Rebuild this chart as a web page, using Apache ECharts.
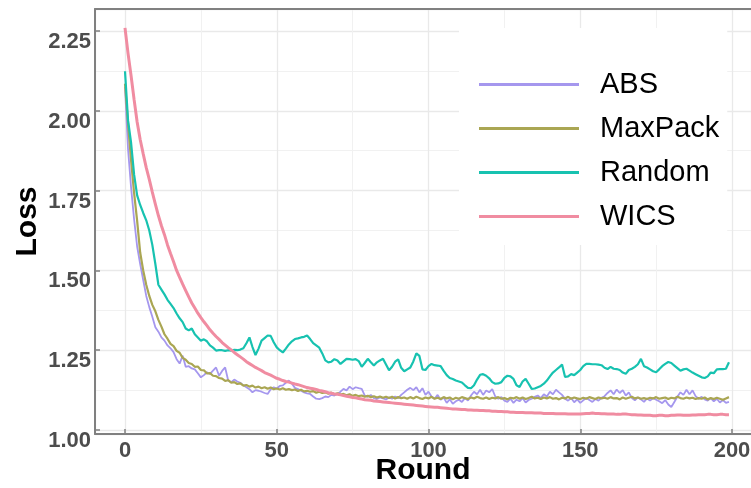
<!DOCTYPE html>
<html><head><meta charset="utf-8">
<script src="https://cdn.jsdelivr.net/npm/echarts@6/dist/echarts.min.js"></script>
<style>html,body{margin:0;padding:0;background:#fff}#c{width:751px;height:488px}</style>
</head><body><div id="c"></div>
<script>
const seriesNames = ['ABS', 'MaxPack', 'Random', 'WICS'];
const xTicks = [0, 50, 100, 150, 200];
const yTicks = [1.00, 1.25, 1.50, 1.75, 2.00, 2.25];

const absLoss = [
2.075,1.880,1.760,1.660,1.575,1.520,1.470,1.420,1.385,1.355,
1.322,1.308,1.290,1.280,1.265,1.256,1.244,1.222,1.208,1.233,
1.198,1.200,1.193,1.190,1.178,1.165,1.172,1.181,1.176,1.186,
1.196,1.170,1.185,1.196,1.155,1.150,1.158,1.152,1.148,1.140,
1.134,1.128,1.118,1.125,1.123,1.120,1.116,1.113,1.128,1.134,
1.130,1.138,1.140,1.148,1.155,1.145,1.132,1.128,1.123,1.118,
1.115,1.113,1.105,1.098,1.097,1.100,1.105,1.103,1.110,1.108,
1.113,1.120,1.129,1.124,1.136,1.128,1.134,1.131,1.129,1.108,
1.104,1.110,1.100,1.097,1.102,1.099,1.096,1.102,1.098,1.105,
1.100,1.110,1.118,1.126,1.132,1.125,1.134,1.118,1.131,1.110,
1.120,1.105,1.098,1.110,1.095,1.102,1.085,1.096,1.082,1.090,
1.095,1.088,1.100,1.092,1.108,1.120,1.112,1.126,1.110,1.124,
1.118,1.128,1.105,1.098,1.103,1.092,1.088,1.098,1.085,1.095,
1.090,1.100,1.086,1.094,1.098,1.104,1.108,1.100,1.112,1.105,
1.120,1.112,1.126,1.118,1.110,1.098,1.092,1.100,1.087,1.096,
1.085,1.093,1.100,1.094,1.088,1.097,1.092,1.101,1.106,1.116,
1.124,1.112,1.127,1.116,1.125,1.108,1.118,1.100,1.093,1.102,
1.096,1.088,1.099,1.092,1.100,1.095,1.090,1.084,1.094,1.080,
1.072,1.088,1.104,1.118,1.110,1.126,1.112,1.124,1.106,1.098,
1.104,1.096,1.092,1.100,1.090,1.098,1.086,1.094,1.085,1.088];

const maxPackLoss = [
2.085,1.960,1.845,1.742,1.655,1.556,1.500,1.455,1.420,1.392,
1.372,1.345,1.324,1.300,1.286,1.270,1.263,1.248,1.242,1.226,
1.220,1.210,1.207,1.198,1.199,1.188,1.187,1.177,1.178,1.170,
1.169,1.163,1.161,1.154,1.156,1.148,1.150,1.144,1.146,1.139,
1.141,1.136,1.139,1.133,1.136,1.131,1.134,1.129,1.133,1.128,
1.130,1.127,1.131,1.126,1.128,1.125,1.127,1.122,1.126,1.121,
1.123,1.120,1.122,1.117,1.120,1.116,1.118,1.114,1.117,1.112,
1.115,1.111,1.113,1.109,1.112,1.107,1.110,1.106,1.108,1.104,
1.107,1.103,1.106,1.102,1.105,1.101,1.104,1.100,1.104,1.099,
1.103,1.100,1.102,1.098,1.103,1.099,1.104,1.100,1.097,1.102,
1.099,1.104,1.098,1.101,1.097,1.103,1.099,1.102,1.096,1.101,
1.098,1.103,1.100,1.097,1.102,1.099,1.104,1.100,1.098,1.102,
1.097,1.101,1.099,1.103,1.098,1.100,1.096,1.101,1.099,1.103,
1.098,1.102,1.097,1.100,1.104,1.099,1.101,1.097,1.102,1.099,
1.103,1.098,1.100,1.096,1.101,1.099,1.104,1.098,1.102,1.099,
1.097,1.101,1.098,1.103,1.100,1.097,1.102,1.099,1.101,1.098,
1.103,1.099,1.100,1.096,1.102,1.098,1.101,1.104,1.099,1.102,
1.098,1.100,1.097,1.101,1.099,1.103,1.098,1.100,1.102,1.097,
1.101,1.099,1.104,1.100,1.098,1.102,1.099,1.101,1.097,1.100,
1.098,1.102,1.096,1.100,1.097,1.101,1.098,1.095,1.099,1.103];

const randomLoss = [
2.124,1.970,1.900,1.800,1.735,1.705,1.680,1.657,1.625,1.580,
1.520,1.455,1.440,1.425,1.408,1.395,1.382,1.365,1.350,1.338,
1.318,1.312,1.318,1.300,1.290,1.280,1.284,1.278,1.265,1.258,
1.249,1.250,1.250,1.248,1.250,1.249,1.251,1.250,1.252,1.256,
1.272,1.290,1.260,1.235,1.255,1.280,1.288,1.296,1.295,1.275,
1.259,1.250,1.243,1.255,1.268,1.278,1.285,1.287,1.290,1.292,
1.296,1.285,1.272,1.265,1.258,1.240,1.218,1.212,1.214,1.222,
1.218,1.207,1.215,1.223,1.222,1.220,1.222,1.216,1.198,1.210,
1.223,1.212,1.202,1.212,1.218,1.223,1.205,1.187,1.198,1.214,
1.221,1.195,1.184,1.190,1.196,1.215,1.240,1.232,1.190,1.188,
1.200,1.207,1.203,1.202,1.200,1.185,1.172,1.163,1.160,1.155,
1.152,1.149,1.140,1.132,1.131,1.140,1.158,1.173,1.175,1.170,
1.162,1.150,1.145,1.146,1.150,1.163,1.170,1.168,1.160,1.140,
1.135,1.152,1.160,1.145,1.129,1.130,1.134,1.138,1.145,1.155,
1.168,1.180,1.188,1.196,1.205,1.166,1.168,1.175,1.172,1.180,
1.188,1.200,1.207,1.207,1.206,1.206,1.205,1.203,1.195,1.191,
1.198,1.192,1.191,1.188,1.180,1.176,1.188,1.192,1.198,1.206,
1.223,1.200,1.196,1.190,1.184,1.181,1.190,1.200,1.207,1.213,
1.210,1.202,1.194,1.186,1.190,1.192,1.186,1.180,1.175,1.170,
1.165,1.163,1.168,1.180,1.178,1.190,1.191,1.191,1.192,1.212];

const wicsLoss = [
2.260,2.180,2.110,2.035,1.965,1.910,1.865,1.822,1.785,1.745,
1.708,1.672,1.640,1.612,1.580,1.553,1.527,1.500,1.478,1.457,
1.437,1.417,1.398,1.382,1.366,1.352,1.339,1.327,1.314,1.303,
1.293,1.284,1.274,1.266,1.258,1.251,1.243,1.236,1.229,1.222,
1.214,1.208,1.202,1.196,1.191,1.186,1.180,1.176,1.172,1.167,
1.162,1.159,1.155,1.152,1.150,1.147,1.144,1.142,1.139,1.136,
1.133,1.131,1.129,1.127,1.124,1.122,1.120,1.117,1.115,1.113,
1.112,1.110,1.108,1.106,1.104,1.102,1.101,1.099,1.097,1.095,
1.094,1.093,1.091,1.090,1.089,1.088,1.087,1.086,1.085,1.084,
1.083,1.082,1.081,1.080,1.079,1.078,1.077,1.076,1.075,1.074,
1.073,1.072,1.071,1.071,1.070,1.069,1.068,1.067,1.066,1.066,
1.065,1.064,1.064,1.063,1.063,1.062,1.062,1.061,1.061,1.060,
1.060,1.059,1.059,1.058,1.058,1.057,1.057,1.056,1.056,1.055,
1.055,1.055,1.054,1.054,1.054,1.053,1.053,1.053,1.052,1.052,
1.052,1.052,1.051,1.051,1.051,1.051,1.050,1.050,1.050,1.050,
1.050,1.051,1.052,1.052,1.053,1.052,1.052,1.051,1.051,1.050,
1.050,1.050,1.049,1.049,1.050,1.050,1.049,1.048,1.048,1.047,
1.047,1.046,1.046,1.046,1.045,1.045,1.046,1.046,1.045,1.045,
1.046,1.046,1.047,1.047,1.046,1.046,1.046,1.047,1.047,1.048,
1.048,1.048,1.049,1.049,1.048,1.048,1.049,1.049,1.048,1.048];

const rounds = absLoss.map((_, i) => i);
const allSeries = [absLoss, maxPackLoss, randomLoss, wicsLoss];
const colors = ['#a597ee', '#aaa653', '#17c2b0', '#f08ca1'];
const widths = [1.8, 2.2, 2.2, 3];

const X_MIN = -9.885, X_MAX = 206.26;
const Y_MIN = 0.9875, Y_MAX = 2.319;

const chart = echarts.init(document.getElementById('c'), null, {renderer: 'canvas'});
const labelStyle = {fontFamily: 'Liberation Sans', fontWeight: 'bold', fontSize: 22, color: '#4d4d4d'};
const frameLine = {show: true, onZero: false, lineStyle: {color: '#808080', width: 2}};
chart.setOption({
  animation: false,
  backgroundColor: '#ffffff',
  grid: {left: 95, top: 9, right: 0, bottom: 54, containLabel: false, outerBoundsMode: 'none'},
  legend: {
    orient: 'vertical', left: 459, top: 28,
    padding: [42, 8, 14, 20],
    backgroundColor: '#ffffff',
    icon: 'rect',
    itemWidth: 100, itemHeight: 3, itemGap: 15,
    textStyle: {fontFamily: 'Liberation Sans', fontSize: 29, color: '#000', padding: [0, 0, 0, 16]},
    data: seriesNames
  },
  xAxis: [{
    type: 'value', min: X_MIN, max: X_MAX, minInterval: 50, maxInterval: 50,
    name: 'Round', nameLocation: 'middle', nameGap: 22, nameMoveOverlap: false,
    nameTextStyle: {fontFamily: 'Liberation Sans', fontWeight: 'bold', fontSize: 30, color: '#000', verticalAlign: 'top'},
    axisLine: frameLine,
    axisTick: {show: true, inside: true, length: 5, lineStyle: {color: '#808080', width: 1.5}},
    axisLabel: Object.assign({margin: 6, showMinLabel: false, showMaxLabel: false,
      formatter: v => xTicks.includes(v) ? String(v) : ''}, labelStyle),
    splitLine: {show: true, lineStyle: {color: '#e9e9e9', width: 1.3}},
    minorTick: {show: false, splitNumber: 2},
    minorSplitLine: {show: true, lineStyle: {color: '#f1f1f1', width: 1}}
  }, {
    type: 'value', min: X_MIN, max: X_MAX, position: 'top',
    axisLine: frameLine, axisTick: {show: false}, axisLabel: {show: false}, splitLine: {show: false}
  }],
  yAxis: {
    type: 'value', min: Y_MIN, max: Y_MAX, minInterval: 0.25, maxInterval: 0.25,
    name: 'Loss', nameLocation: 'middle', nameGap: 52, nameRotate: 90, nameMoveOverlap: false,
    nameTextStyle: {fontFamily: 'Liberation Sans', fontWeight: 'bold', fontSize: 30, color: '#000'},
    axisLine: frameLine,
    axisTick: {show: true, inside: true, length: 5, lineStyle: {color: '#808080', width: 1.5}},
    axisLabel: Object.assign({margin: 4, verticalAlign: 'top', showMinLabel: false, showMaxLabel: false,
      formatter: v => yTicks.some(t => Math.abs(t - v) < 1e-6) ? v.toFixed(2) : ''}, labelStyle),
    splitLine: {show: true, lineStyle: {color: '#e9e9e9', width: 1.3}},
    minorTick: {show: false, splitNumber: 2},
    minorSplitLine: {show: true, lineStyle: {color: '#f1f1f1', width: 1}}
  },
  series: seriesNames.map((name, k) => ({
    name, type: 'line', symbol: 'none', showSymbol: false,
    color: colors[k],
    lineStyle: {width: widths[k], color: colors[k]},
    data: rounds.map((r, i) => [r, allSeries[k][i]])
  }))
});
</script></body></html>
